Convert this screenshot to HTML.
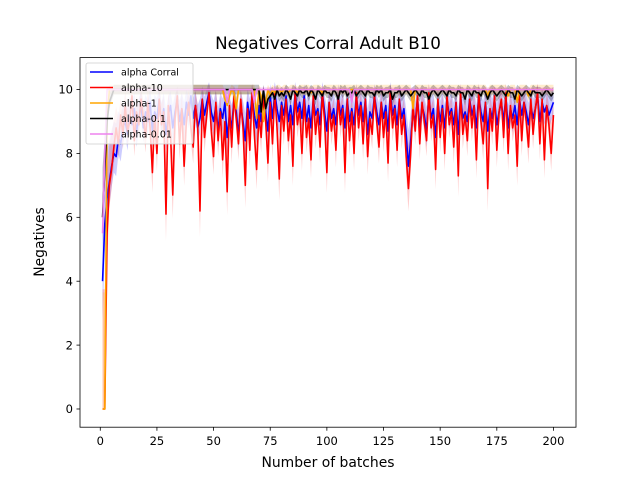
<!DOCTYPE html>
<html><head><meta charset="utf-8"><style>
body{margin:0;background:#fff;}
svg{display:block;font-family:"DejaVu Sans","Liberation Sans",sans-serif;}
</style></head><body>
<svg id="chart" width="640" height="480" viewBox="0 0 640 480" xmlns="http://www.w3.org/2000/svg">
<defs><clipPath id="clip"><rect x="80" y="57.6" width="496" height="369.6"/></clipPath></defs>
<rect x="0" y="0" width="640" height="480" fill="#fff"/>
<text x="328" y="49" text-anchor="middle" font-size="16.7">Negatives Corral Adult B10</text>
<g id="plot" clip-path="url(#clip)"></g>
<rect x="80" y="57.6" width="496" height="369.6" fill="none" stroke="#000" stroke-width="0.8"/>
<g id="axes"></g>
<text x="328" y="467" text-anchor="middle" font-size="13.9">Number of batches</text>
<text transform="translate(44 242) rotate(-90)" text-anchor="middle" font-size="13.9">Negatives</text>
<g id="legend"></g>
</svg>
<script>
const xTicks=[0,25,50,75,100,125,150,175,200];
const yTicks=[0,2,4,6,8,10];
const seriesNames=["alpha Corral","alpha-10","alpha-1","alpha-0.1","alpha-0.01"];
const seriesColors=["#0000ff","#ff0000","#ffa500","#000000","#ee82ee"];
const bandWidth=[0.3,0.25,0.15,0.15,0.08];
const alphaCorral=[4.0,5.8,6.6,7.1,7.6,8.0,7.9,8.5,8.3,8.8,9.0,8.6,9.2,8.9,9.4,8.7,9.1,9.5,8.8,9.3,9.0,9.6,8.7,9.3,9.1,9.7,8.9,9.4,8.6,9.2,9.5,8.8,9.3,9.7,9.0,9.4,8.9,9.6,9.2,9.8,9.1,9.5,8.8,9.1,9.7,9.2,9.6,9.9,9.3,9.0,9.5,8.7,9.4,9.1,9.6,8.5,9.2,8.8,9.7,9.3,8.6,9.5,9.0,8.4,9.6,9.1,9.8,9.2,8.8,9.5,9.0,9.7,9.3,8.7,9.8,9.1,9.9,9.4,9.0,9.6,9.2,9.8,9.0,9.5,8.9,9.9,9.3,9.6,9.1,9.8,9.0,9.5,8.8,9.7,9.2,9.4,8.9,9.9,9.3,8.7,9.6,9.1,9.4,8.9,9.8,9.2,9.5,8.8,9.7,9.0,9.4,8.9,9.8,9.2,9.6,9.0,9.7,8.6,9.3,9.1,9.8,9.3,8.9,9.6,9.1,9.5,8.7,9.9,9.2,9.5,8.9,9.7,9.1,9.4,8.6,7.6,8.4,9.3,9.0,9.7,8.8,9.5,9.2,8.7,9.8,9.1,9.4,8.5,9.6,9.0,9.5,8.8,9.7,9.2,9.4,8.9,9.6,8.6,9.8,9.1,9.3,9.0,9.7,9.2,9.5,8.8,9.8,9.3,9.0,9.6,8.7,9.4,9.1,9.7,8.9,9.3,9.6,9.0,9.8,8.8,9.4,9.1,9.5,8.9,9.7,9.2,9.6,9.3,8.9,9.5,9.1,9.4,9.8,9.0,9.6,9.3,9.5,9.2,9.4,9.6];
const alpha10=[0,0,5.5,7,7.5,8.2,8.8,8.3,9.2,8.6,9.5,8.7,9.0,9.8,8.4,9.3,8.9,9.7,9.1,8.5,9.6,8.8,7.4,9.2,8.0,9.7,8.9,9.3,6.1,9.5,8.6,6.7,9.1,9.8,8.3,9.4,7.6,9.0,9.6,8.8,8.2,9.5,8.9,6.2,9.7,8.5,9.2,9.9,8.7,7.9,9.6,8.4,9.3,7.8,9.0,6.8,9.5,8.2,9.8,9.1,8.3,9.7,8.8,7.0,9.4,8.1,9.9,8.6,7.5,9.2,8.5,9.8,9.0,7.7,9.6,8.3,9.9,8.8,7.2,9.5,8.7,9.7,8.4,9.2,7.6,9.9,8.9,9.4,8.0,9.7,8.5,9.1,7.8,9.8,8.6,9.3,8.2,9.9,9.0,7.4,9.6,8.7,9.2,8.1,9.8,8.9,9.4,7.4,9.7,8.4,9.3,8.0,9.9,8.8,9.5,8.3,9.7,7.9,9.1,8.6,9.8,9.0,8.2,9.6,8.5,9.3,7.7,9.9,8.8,9.4,8.1,9.7,8.6,9.2,7.9,6.9,8.0,9.5,8.7,9.8,8.3,9.6,9.0,8.4,9.9,8.8,9.2,7.5,9.7,8.5,9.4,8.0,9.8,8.9,9.3,8.2,9.6,7.3,9.9,8.6,9.2,8.4,9.7,8.8,9.5,7.8,9.9,9.0,8.3,9.6,6.9,9.4,8.7,9.8,8.1,9.3,9.7,8.5,9.9,8.0,9.5,8.8,9.2,7.6,9.8,8.4,9.6,9.0,8.2,9.7,8.6,9.4,9.9,8.3,9.7,7.8,9.5,8.9,8.0,9.2];
const alpha1=[
0,0,9,10,10,10,10,10,10,10,10,10,10,10,10,10,10,10,10,10,
10,10,10,10,10,10,10,10,10,10,10,10,10,10,10,10,10,10,10,10,
10,10,10,10,10,10,10,10,10,10,10,10,10,10,9.7,9.5,9.8,10,9.9,9.4,
10,10,10,10,10,10,10,10,9.1,10,9.8,9.0,9.6,10,9.8,10,9.9,10,10,9.9,
10,10,9.9,10,10,10,9.9,10,10,10,10,10,9.9,10,10,10,10,9.9,10,10,
10,10,10,10,10,10,10,10,10,10,10,10,10,10,10,10,10,10,10,10,
10,10,10,10,10,10,10,10,10,10,10,10,10,10,10,10,10,9.4,10,10,
10,10,10,10,10,10,10,10,10,10,10,10,10,10,10,10,10,10,10,10,
10,10,10,10,10,10,10,10,10,10,9.8,10,10,10,10,10,10,10,10,9.8,
10,10,10,9.6,10,10,10,10,9.8,10,10,10,10,10,10,10,10,10,10,10];
const alpha01=[
6,7.5,9,9.6,9.8,10,10,10,10,10,10,10,10,10,10,10,10,10,10,10,
10,10,10,10,10,10,10,10,10,10,10,10,10,10,10,10,10,10,10,10,
10,10,10,10,10,10,10,10,10,10,10,10,10,10,10,10,10,10,10,10,
10,10,10,10,10,10,10,10,10,10,9.3,10,9.4,9.7,9.8,9.9,9.7,10,9.8,9.9,
9.8,10,9.9,9.7,10,9.9,9.8,10,9.9,9.9,10,9.8,10,9.9,9.7,10,9.9,9.8,10,9.9,
9.9,9.8,10,9.9,9.7,10,9.9,10,9.8,9.9,9.9,10,9.8,9.9,10,9.9,9.8,10,9.9,9.9,
9.8,10,9.9,10,9.8,9.9,9.9,10,9.7,9.9,9.9,10,9.8,9.9,10,9.9,9.8,9.9,10,9.9,
9.8,10,9.9,9.9,9.7,9.9,10,9.9,9.8,9.9,10,9.9,9.8,10,9.9,9.9,9.8,10,9.9,9.9,
9.7,10,9.9,9.8,10,9.9,9.9,9.8,10,9.9,9.7,9.9,10,9.9,9.8,9.9,10,9.9,9.8,10,
9.9,9.9,9.7,10,9.9,9.8,9.9,10,9.9,9.8,10,9.9,9.9,9.9,9.8,9.9,10,9.9,9.8,9.9];
const alpha001=[
5.5,8,10,10,10,10,10,10,10,10,10,10,10,10,10,10,10,10,10,10,
10,10,10,10,10,10,10,10,10,10,10,10,10,10,10,10,10,10,10,10,
10,10,10,10,10,10,10,10,10,10,10,10,10,10,10,9.6,10,10,10,10,
10,10,10,10,10,10,10,9.6,10,10,10,10,10,10,10,10,10,10,10,10,
10,10,10,10,10,10,10,10,10,10,10,10,10,10,10,10,10,10,10,10,
10,10,10,10,10,10,10,10,10,10,9.6,10,10,10,10,10,10,10,10,10,
10,10,10,10,10,10,10,10,10,10,10,10,10,10,10,10,10,10,10,10,
10,10,10,10,10,10,10,10,10,10,10,10,10,10,10,10,10,10,10,10,
10,10,10,10,10,10,10,10,10,10,10,10,10,10,10,10,10,10,10,10,
10,10,10,10,10,10,10,10,10,10,10,10,10,10,10,10,10,10,10,10];
const seriesValues=[alphaCorral,alpha10,alpha1,alpha01,alpha001];

const NS="http://www.w3.org/2000/svg";
const L=80,R=576,T=57.6,B=427.2;
const xMin=-8.95,xMax=209.95,yMin=-0.57,yMax=11.0;
const xs=v=>L+(v-xMin)/(xMax-xMin)*(R-L);
const ys=v=>B-(v-yMin)/(yMax-yMin)*(B-T);
function mk(tag,attrs,parent){const e=document.createElementNS(NS,tag);for(const k in attrs)e.setAttribute(k,attrs[k]);parent.appendChild(e);return e;}
const plot=document.getElementById('plot'),axes=document.getElementById('axes'),legend=document.getElementById('legend');

seriesValues.forEach((vals,si)=>{
  const w=bandWidth[si];
  const up=vals.map((v,i)=>xs(i+1).toFixed(2)+','+ys(Math.min(v+w+(10-v)*0.35,10.5)).toFixed(2));
  const dn=vals.map((v,i)=>xs(i+1).toFixed(2)+','+ys(Math.max(v-w-(10-v)*0.15,0)).toFixed(2)).reverse();
  const p=mk('polygon',{points:up.concat(dn).join(' '),fill:seriesColors[si],'fill-opacity':si==3?0.25:0.2,stroke:'none'},plot);
  
  
});
seriesValues.forEach((vals,si)=>{
  const pts=vals.map((v,i)=>xs(i+1).toFixed(2)+','+ys(v).toFixed(2)).join(' ');
  const l=mk('polyline',{points:pts,fill:'none',stroke:seriesColors[si],'stroke-width':1.6,'stroke-linejoin':'round'},plot);
  
  
});
xTicks.forEach(t=>{
  const x=xs(t);
  const tk=mk('line',{x1:x,x2:x,y1:B,y2:B+3.5,stroke:'#000','stroke-width':0.8},axes);
  
  
  const tx=mk('text',{x:x,y:B+18,'text-anchor':'middle','font-size':11.5},axes);
  tx.textContent=t;
  
  
});
yTicks.forEach(t=>{
  const y=ys(t);
  const tk=mk('line',{x1:L-3.5,x2:L,y1:y,y2:y,stroke:'#000','stroke-width':0.8},axes);
  
  
  const tx=mk('text',{x:L-7,y:y+4.2,'text-anchor':'end','font-size':11.5},axes);
  tx.textContent=t;
  
  
});
const box=mk('rect',{x:86,y:63,width:107,height:81,rx:2,fill:'#fff','fill-opacity':0.8,stroke:'#ccc','stroke-width':0.8},legend);


seriesNames.forEach((n,i)=>{
  const y=72+i*15.5;
  const g=mk('g',{},legend);
  
  
  mk('line',{x1:90,x2:113,y1:y,y2:y,stroke:seriesColors[i],'stroke-width':1.5},g);
  const t=mk('text',{x:121,y:y+3.5,'font-size':9.5},g);
  t.textContent=n;
});
</script>
</body></html>
